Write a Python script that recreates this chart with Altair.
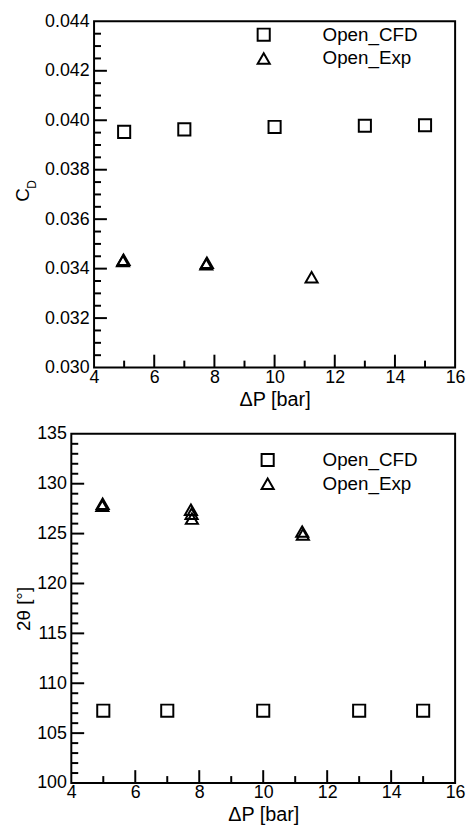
import altair as alt
import pandas as pd

FONT = "Liberation Sans"

# ---------------- data ----------------
series_names = ["Open_CFD", "Open_Exp"]
series_shapes = ["square", "triangle-up"]

# top panel: discharge coefficient C_D vs pressure drop
cd_cfd_dp = [5, 7, 10, 13, 15]
cd_cfd = [0.03953, 0.03963, 0.03973, 0.03978, 0.03980]
cd_exp_dp = [4.96, 4.98, 7.73, 7.75, 11.23]
cd_exp = [0.03431, 0.03436, 0.03418, 0.03424, 0.03365]

# bottom panel: spray angle 2theta vs pressure drop
th_cfd_dp = [5, 7, 10, 13, 15]
th_cfd = [107.25, 107.25, 107.25, 107.25, 107.25]
th_exp_dp = [4.97, 4.98, 7.74, 7.76, 7.77, 11.22, 11.24]
th_exp = [127.8, 128.0, 127.4, 127.0, 126.5, 125.2, 124.9]

# axis ticks
x_labels = [4, 6, 8, 10, 12, 14, 16]
x_major_in = [6, 8, 10, 12, 14]
x_minor_in = [5, 7, 9, 11, 13, 15]
cd_labels = [0.030, 0.032, 0.034, 0.036, 0.038, 0.040, 0.042, 0.044]
cd_major_in = [0.032, 0.034, 0.036, 0.038, 0.040, 0.042]
cd_minor_in = [0.0305, 0.031, 0.0315, 0.0325, 0.033, 0.0335, 0.0345, 0.035,
               0.0355, 0.0365, 0.037, 0.0375, 0.0385, 0.039, 0.0395, 0.0405,
               0.041, 0.0415, 0.0425, 0.043, 0.0435]
th_labels = [100, 105, 110, 115, 120, 125, 130, 135]
th_major_in = [105, 110, 115, 120, 125, 130]
th_minor_in = [v for v in range(101, 135) if v % 5 != 0]

X_DOMAIN = [4, 16]
CD_DOMAIN = [0.030, 0.044]
TH_DOMAIN = [100, 135]

MAJOR = 13
MINOR = 7
W = 388          # common group width of both panels


def panel(cfd_dp, cfd_y, exp_dp, exp_y, y_domain, y_labels, y_major, y_minor,
          y_title, y_format, inset, height, title_pad, legend_x, legend_y,
          label_offset):
    """inset: left indent (px) of the plot frame inside the group."""
    pts = pd.DataFrame({
        "dp": list(cfd_dp) + list(exp_dp),
        "val": list(cfd_y) + list(exp_y),
        "series": [series_names[0]] * len(cfd_dp) + [series_names[1]] * len(exp_dp),
    })
    xs = alt.Scale(domain=X_DOMAIN, range=[inset, W], nice=False, zero=False)
    ys = alt.Scale(domain=y_domain, nice=False, zero=False)
    x_axis = alt.Axis(values=x_labels, format="d", labelPadding=1,
                      titlePadding=3, labelFlush=False, labelOverlap=False,
                      titleX=inset + (W - inset) / 2)
    y_axis = alt.Axis(values=y_labels, format=y_format, labelPadding=5,
                      titlePadding=title_pad, labelFlush=False,
                      labelOverlap=False, offset=-inset)
    x_title = "ΔP [bar]"

    points = alt.Chart(pts).mark_point(
        filled=False, color="black", strokeWidth=2, size=150, opacity=1
    ).encode(
        x=alt.X("dp:Q", scale=xs, title=x_title, axis=x_axis),
        y=alt.Y("val:Q", scale=ys, title=y_title, axis=y_axis),
        shape=alt.Shape("series:N",
                        scale=alt.Scale(domain=series_names, range=series_shapes),
                        legend=alt.Legend(orient="none", legendX=legend_x,
                                          legendY=legend_y, title=None,
                                          labelFontSize=19, labelFont=FONT,
                                          labelColor="black",
                                          symbolSize=150, symbolStrokeWidth=2,
                                          symbolStrokeColor="black",
                                          symbolFillColor="transparent",
                                          labelOffset=label_offset,
                                          rowPadding=4, padding=0)),
    )

    def xticks(vals, length):
        return alt.Chart(pd.DataFrame({"dp": vals})).mark_rule(
            color="black", strokeWidth=2
        ).encode(
            x=alt.X("dp:Q", scale=xs, title=x_title, axis=x_axis),
            y=alt.value(height),
            y2=alt.value(height - length),
        )

    def yticks(vals, length):
        return alt.Chart(pd.DataFrame({"val": vals})).mark_rule(
            color="black", strokeWidth=2
        ).encode(
            y=alt.Y("val:Q", scale=ys, title=y_title, axis=y_axis),
            x=alt.value(inset),
            x2=alt.value(inset + length),
        )

    frame = alt.Chart(pd.DataFrame({"f": [0]})).mark_rect(
        fillOpacity=0, stroke="black", strokeWidth=2
    ).encode(
        x=alt.value(inset), x2=alt.value(W),
        y=alt.value(0), y2=alt.value(height),
    )

    layers = [points, xticks(x_major_in, MAJOR), xticks(x_minor_in, MINOR),
              yticks(y_major, MAJOR), yticks(y_minor, MINOR), frame]
    return layers


TOP_H = 350
BOT_H = 353

top_layers = panel(cd_cfd_dp, cd_cfd, cd_exp_dp, cd_exp, CD_DOMAIN, cd_labels,
                   cd_major_in, cd_minor_in, "C", ".3f", 23, TOP_H, 12,
                   185, 4, 50)
# subscript "D" of C_D
sub = alt.Chart(pd.DataFrame({"s": ["D"]})).mark_text(
    font=FONT, fontSize=12, angle=270, align="center", baseline="middle",
    color="black"
).encode(text="s:N", x=alt.value(-40), y=alt.value(165))
top = alt.layer(*top_layers, sub).properties(width=W, height=TOP_H)

bot_layers = panel(th_cfd_dp, th_cfd, th_exp_dp, th_exp, TH_DOMAIN, th_labels,
                   th_major_in, th_minor_in, "2θ [°]", "d", 0, BOT_H, 3,
                   189, 17, 46)
bottom = alt.layer(*bot_layers).properties(width=W, height=BOT_H)

chart = alt.vconcat(top, bottom, spacing=16).resolve_scale(
    shape="independent"
).resolve_legend(shape="independent").properties(
    padding={"left": 5, "top": 0, "right": 0, "bottom": 0}
).configure_view(
    strokeWidth=0
).configure_axis(
    domain=False, grid=False, ticks=False,
    labelFont=FONT, titleFont=FONT, labelFontSize=18, titleFontSize=20,
    labelColor="black", titleColor="black", titleFontWeight="normal"
).configure_axisY(
    titleFontSize=19
)

chart.save("out.html", embed_options={"renderer": "svg", "actions": False})
